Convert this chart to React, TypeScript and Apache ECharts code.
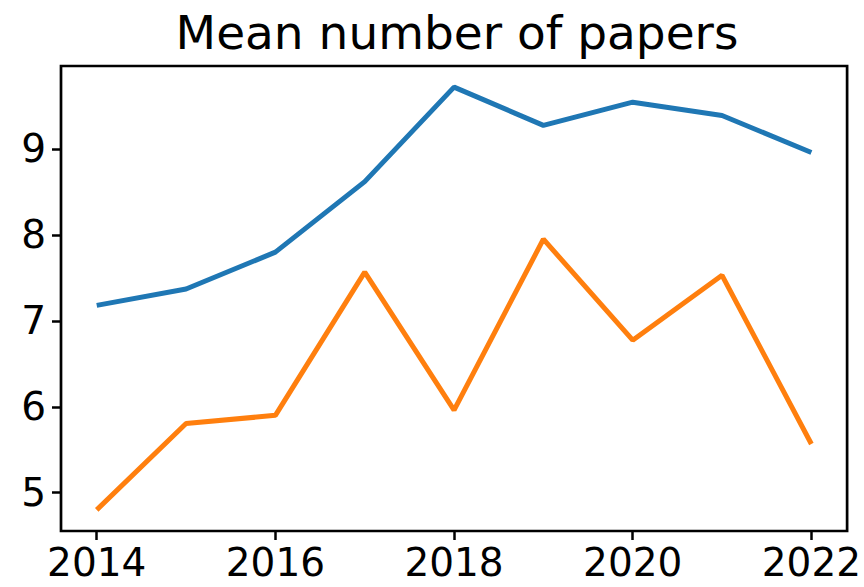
import React, { useEffect, useRef } from "react";
import * as echarts from "echarts";

// Yearly means, 2014–2022
const years = [2014, 2015, 2016, 2017, 2018, 2019, 2020, 2021, 2022];
const seriesA = [7.18, 7.37, 7.8, 8.62, 9.72, 9.275, 9.545, 9.39, 8.96];
const seriesB = [4.8, 5.805, 5.9, 7.567, 5.96, 7.95, 6.775, 7.53, 5.567];

const xTicks = [2014, 2016, 2018, 2020, 2022];
const yTicks = [5, 6, 7, 8, 9];

const FONT = "DejaVu Sans";

export default function App() {
  const ref = useRef<HTMLDivElement>(null);

  useEffect(() => {
    if (!ref.current) return;
    const chart = echarts.init(ref.current, undefined, { renderer: "svg" });

    // 5% padding around the data range on both axes
    const all = [...seriesA, ...seriesB];
    const lo = Math.min(...all);
    const hi = Math.max(...all);
    const yPad = (hi - lo) * 0.05;
    const xPad = (years[years.length - 1] - years[0]) * 0.05;

    const tickStyle = { color: "#000", width: 2.5 };

    chart.setOption({
      animation: false,
      backgroundColor: "#fff",
      title: {
        text: "Mean number of papers",
        left: 452,
        top: 4,
        textAlign: "center",
        textStyle: { fontFamily: FONT, fontSize: 47, fontWeight: "normal", color: "#000" },
      },
      grid: {
        left: 61,
        right: 14,
        top: 66,
        bottom: 56,
        show: true,
        borderColor: "#000",
        borderWidth: 2.7,
        backgroundColor: "transparent",
      },
      xAxis: {
        type: "value",
        min: years[0] - xPad,
        max: years[years.length - 1] + xPad,
        splitLine: { show: false },
        axisLine: { show: false },
        axisTick: { show: true, length: 9, lineStyle: tickStyle, customValues: xTicks },
        axisLabel: {
          customValues: xTicks,
          formatter: (v: number) => String(v),
          fontFamily: FONT,
          fontSize: 39,
          color: "#000",
          margin: 12,
        },
      },
      yAxis: {
        type: "value",
        min: lo - yPad,
        max: hi + yPad,
        splitLine: { show: false },
        axisLine: { show: false },
        axisTick: { show: true, length: 9, lineStyle: tickStyle, customValues: yTicks },
        axisLabel: {
          customValues: yTicks,
          formatter: (v: number) => String(v),
          fontFamily: FONT,
          fontSize: 39,
          color: "#000",
          margin: 15,
        },
      },
      series: [
        {
          name: "series1",
          type: "line",
          data: years.map((y, i) => [y, seriesA[i]]),
          showSymbol: false,
          lineStyle: { color: "#1f77b4", width: 5 },
          itemStyle: { color: "#1f77b4" },
        },
        {
          name: "series2",
          type: "line",
          data: years.map((y, i) => [y, seriesB[i]]),
          showSymbol: false,
          lineStyle: { color: "#ff7f0e", width: 5 },
          itemStyle: { color: "#ff7f0e" },
        },
      ],
    });

    return () => chart.dispose();
  }, []);

  return (
    <div
      ref={ref}
      style={{ position: "fixed", left: 0, top: 0, width: 864, height: 587, background: "#fff" }}
    />
  );
}
